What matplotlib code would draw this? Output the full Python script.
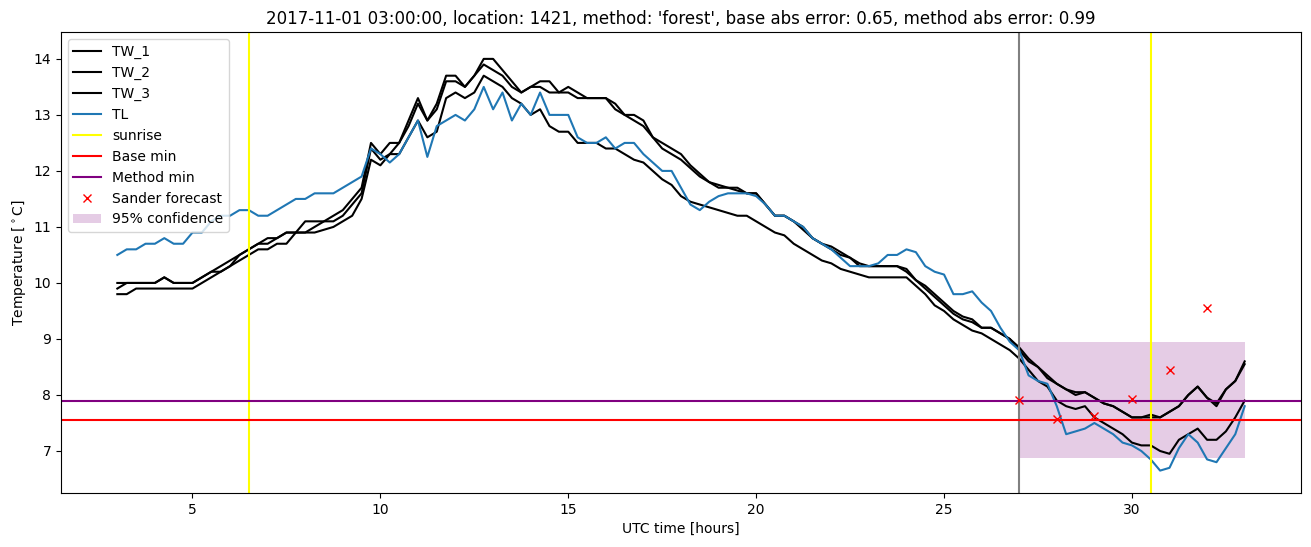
import numpy as np
import matplotlib
matplotlib.use('Agg')
import matplotlib.pyplot as plt

# time axis, quarter hours from 03:00 to 33:00 UTC
hours = np.arange(3.0, 33.001, 0.25)

tw_1 = [10.0, 10.0, 10.0, 10.0, 10.0, 10.1, 10.0, 10.0, 10.0, 10.1, 10.2, 10.3, 10.4, 10.5, 10.6, 10.7,
        10.8, 10.8, 10.9, 10.9, 11.1, 11.1, 11.1, 11.2, 11.3, 11.5, 11.7, 12.5, 12.3, 12.5, 12.5, 12.9,
        13.3, 12.9, 13.2, 13.7, 13.7, 13.5, 13.7, 14.0, 14.0, 13.8, 13.6, 13.4, 13.5, 13.6, 13.6, 13.4,
        13.5, 13.4, 13.3, 13.3, 13.3, 13.2, 13.0, 13.0, 12.9, 12.6, 12.5, 12.4, 12.3, 12.1, 11.95, 11.8,
        11.75, 11.7, 11.7, 11.6, 11.6, 11.4, 11.2, 11.2, 11.1, 11.0, 10.8, 10.7, 10.65, 10.55, 10.45, 10.35,
        10.3, 10.3, 10.3, 10.3, 10.25, 10.05, 9.95, 9.8, 9.65, 9.5, 9.4, 9.35, 9.2, 9.2, 9.1, 9.0,
        8.85, 8.65, 8.5, 8.35, 8.2, 8.1, 8.05, 8.05, 7.95, 7.85, 7.8, 7.7, 7.6, 7.6, 7.65, 7.6,
        7.7, 7.8, 8.0, 8.15, 7.95, 7.85, 8.1, 8.25, 8.6]
tw_2 = [9.9, 10.0, 10.0, 10.0, 10.0, 10.1, 10.0, 10.0, 10.0, 10.1, 10.2, 10.2, 10.3, 10.5, 10.6, 10.7,
        10.7, 10.8, 10.9, 10.9, 10.9, 11.0, 11.1, 11.1, 11.2, 11.4, 11.6, 12.4, 12.2, 12.3, 12.5, 12.8,
        13.2, 12.9, 13.1, 13.6, 13.6, 13.5, 13.7, 13.9, 13.8, 13.7, 13.5, 13.4, 13.5, 13.5, 13.4, 13.4,
        13.4, 13.3, 13.3, 13.3, 13.3, 13.1, 13.0, 12.9, 12.8, 12.6, 12.4, 12.3, 12.2, 12.05, 11.9, 11.8,
        11.7, 11.7, 11.65, 11.6, 11.6, 11.4, 11.2, 11.2, 11.1, 10.95, 10.8, 10.7, 10.6, 10.5, 10.45, 10.3,
        10.3, 10.3, 10.3, 10.3, 10.2, 10.05, 9.9, 9.75, 9.6, 9.45, 9.35, 9.3, 9.2, 9.2, 9.1, 9.0,
        8.8, 8.6, 8.5, 8.3, 8.2, 8.1, 8.0, 8.05, 7.95, 7.85, 7.8, 7.7, 7.6, 7.6, 7.6, 7.6,
        7.7, 7.8, 8.0, 8.15, 7.95, 7.8, 8.1, 8.25, 8.55]
tw_3 = [9.8, 9.8, 9.9, 9.9, 9.9, 9.9, 9.9, 9.9, 9.9, 10.0, 10.1, 10.2, 10.3, 10.4, 10.5, 10.6,
        10.6, 10.7, 10.7, 10.9, 10.9, 10.9, 10.95, 11.0, 11.1, 11.2, 11.5, 12.2, 12.1, 12.3, 12.3, 12.6,
        12.9, 12.6, 12.7, 13.3, 13.4, 13.3, 13.4, 13.7, 13.6, 13.5, 13.3, 13.2, 13.0, 13.1, 12.8, 12.7,
        12.7, 12.5, 12.5, 12.5, 12.4, 12.4, 12.3, 12.2, 12.15, 12.0, 11.85, 11.75, 11.55, 11.45, 11.4, 11.35,
        11.3, 11.25, 11.2, 11.2, 11.1, 11.0, 10.9, 10.85, 10.7, 10.6, 10.5, 10.4, 10.35, 10.25, 10.2, 10.15,
        10.1, 10.1, 10.1, 10.1, 10.1, 9.95, 9.8, 9.6, 9.5, 9.35, 9.25, 9.15, 9.1, 9.0, 8.9, 8.8,
        8.65, 8.45, 8.25, 8.15, 7.9, 7.8, 7.75, 7.8, 7.6, 7.5, 7.4, 7.3, 7.15, 7.1, 7.1, 7.0,
        6.95, 7.2, 7.3, 7.4, 7.2, 7.2, 7.35, 7.6, 7.9]
tl = [10.5, 10.6, 10.6, 10.7, 10.7, 10.8, 10.7, 10.7, 10.9, 10.9, 11.1, 11.2, 11.2, 11.3, 11.3, 11.2,
      11.2, 11.3, 11.4, 11.5, 11.5, 11.6, 11.6, 11.6, 11.7, 11.8, 11.9, 12.4, 12.3, 12.15, 12.3, 12.6,
      12.9, 12.25, 12.8, 12.9, 13.0, 12.9, 13.1, 13.5, 13.1, 13.4, 12.9, 13.2, 13.0, 13.4, 13.0, 13.0,
      13.0, 12.6, 12.5, 12.5, 12.6, 12.4, 12.5, 12.5, 12.3, 12.15, 12.0, 12.0, 11.7, 11.4, 11.3, 11.45,
      11.55, 11.6, 11.6, 11.6, 11.55, 11.4, 11.2, 11.2, 11.1, 11.0, 10.8, 10.7, 10.6, 10.45, 10.3, 10.3,
      10.3, 10.35, 10.5, 10.5, 10.6, 10.55, 10.3, 10.2, 10.15, 9.8, 9.8, 9.85, 9.65, 9.5, 9.2, 8.95,
      8.8, 8.35, 8.25, 8.2, 7.8, 7.3, 7.35, 7.4, 7.5, 7.4, 7.3, 7.15, 7.1, 7.0, 6.85, 6.65,
      6.7, 7.05, 7.3, 7.15, 6.85, 6.8, 7.05, 7.3, 7.8]

sunrise_hours = [6.5, 30.5]
forecast_start = 27.0
base_min = 7.56
method_min = 7.9
sander_hours = [27, 28, 29, 30, 31, 32]
sander_temps = [7.91, 7.57, 7.63, 7.93, 8.45, 9.56]
conf_hours = [27.0, 33.0]
conf_low = 6.87
conf_high = 8.94

fig = plt.figure(figsize=(13.11, 5.47), dpi=100)
ax = fig.add_axes([0.0465, 0.0987, 0.9459, 0.8428])

ax.plot(hours, tw_1, color='black', label='TW_1')
ax.plot(hours, tw_2, color='black', label='TW_2')
ax.plot(hours, tw_3, color='black', label='TW_3')
ax.plot(hours, tl, color='tab:blue', label='TL')

for i, h in enumerate(sunrise_hours):
    ax.axvline(h, color='yellow', label='sunrise' if i == 0 else None)
ax.axvline(forecast_start, color='grey')
ax.axhline(base_min, color='red', label='Base min')
ax.axhline(method_min, color='purple', label='Method min')
ax.plot(sander_hours, sander_temps, 'x', color='red', label='Sander forecast')
ax.fill_between(conf_hours, conf_low, conf_high, color='purple', alpha=0.2,
                linewidth=0, label='95% confidence', zorder=0)

ax.set_xlim(1.5, 34.5)
ax.set_ylim(6.25, 14.48)
ax.set_xlabel('UTC time [hours]')
ax.set_ylabel(r'Temperature [$^\circ$C]')
ax.set_title("2017-11-01 03:00:00, location: 1421, method: 'forest', "
             "base abs error: 0.65, method abs error: 0.99")
ax.legend(loc='upper left')

fig.savefig('out.png', dpi=100)
